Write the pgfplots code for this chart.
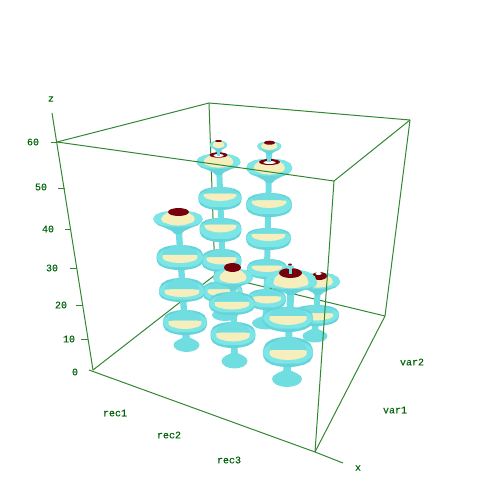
\documentclass[border=0pt]{standalone}
\usepackage{pgfplots}
\usepackage{pgfplotstable}
\usepackage{fontspec}
\setmainfont{Liberation Mono}[RawFeature={embolden=0.15}]
\pgfplotsset{compat=1.18}
\definecolor{cy}{RGB}{112,222,224}
\definecolor{cyl}{RGB}{124,230,230}
\definecolor{cyd}{RGB}{100,212,218}
\definecolor{cr}{RGB}{247,238,190}
\definecolor{rd}{RGB}{118,0,12}
\definecolor{fr}{RGB}{50,135,50}
\definecolor{tx}{RGB}{0,100,10}
\pgfplotstableread{
u v
-1 0
-0.98 -0.3
-0.88 -0.6
-0.66 -0.82
-0.38 -0.95
-0.14 -1
0.14 -1
0.38 -0.95
0.66 -0.82
0.88 -0.6
0.98 -0.3
1 0
0.98 0.3
0.88 0.62
0.66 0.84
0.38 0.96
0.14 1
-0.14 1
-0.38 0.96
-0.66 0.84
-0.88 0.62
-0.98 0.3
}\lensT
\pgfplotstableread{
u v
-1 0
-0.95 -0.2
-0.8 -0.42
-0.5 -0.6
-0.25 -0.8
-0.12 -1
0.12 -1
0.25 -0.8
0.5 -0.6
0.8 -0.42
0.95 -0.2
1 0
0.92 0.5
0.65 0.85
0.3 1
-0.3 1
-0.65 0.85
-0.92 0.5
}\cupT
\pgfplotstableread{
u v
-1 0
-0.92 0.35
-0.7 0.62
-0.4 0.75
0.4 0.75
0.7 0.62
0.92 0.35
1 0
0.92 -0.3
0.7 -0.6
0.4 -0.76
-0.4 -0.76
-0.7 -0.6
-0.92 -0.3
}\rimT
\pgfplotstableread{
u v
-1 0
-0.92 0.5
-0.65 0.85
-0.3 1
0.3 1
0.65 0.85
0.92 0.5
1 0
0.92 -0.25
0.65 -0.42
0.3 -0.5
-0.3 -0.5
-0.65 -0.42
-0.92 -0.25
}\cuprimT
\pgfplotstableread{
u v
-0.74 0.16
-0.5 0.2
-0.22 0.2
0.22 0.2
0.5 0.2
0.74 0.16
0.74 -0.12
0.62 -0.3
0.3 -0.46
0 -0.5
-0.3 -0.46
-0.62 -0.3
-0.74 -0.12
}\creamT
\pgfplotstableread{
u v
-0.76 0.18
-0.5 0.2
-0.22 0.2
0.22 0.2
0.5 0.2
0.76 0.18
0.7 0.5
0.45 0.8
0.14 1
-0.14 1
-0.45 0.8
-0.7 0.5
}\upT
\pgfplotstableread{
u v
-0.68 0
-0.62 0.4
-0.44 0.75
-0.26 0.95
0.26 0.95
0.44 0.75
0.62 0.4
0.68 0
0.62 -0.2
0.3 -0.38
0 -0.44
-0.3 -0.38
-0.62 -0.2
}\domeT
\pgfplotstableread{
u v
1 0
0.92 0.38
0.71 0.71
0.38 0.92
0 1
-0.38 0.92
-0.71 0.71
-0.92 0.38
-1 0
-0.92 -0.38
-0.71 -0.71
-0.38 -0.92
0 -1
0.38 -0.92
0.71 -0.71
0.92 -0.38
}\ellT
\pgfplotstableread{
u v
1 0
0.92 0.38
0.62 0.75
0.26 1.05
0.2 1.9
-0.2 1.9
-0.26 1.05
-0.62 0.75
-0.92 0.38
-1 0
-0.92 -0.38
-0.71 -0.71
-0.38 -0.92
0 -1
0.38 -0.92
0.71 -0.71
0.92 -0.38
}\footT
% shape: colour, table, cx, cy, half width, up, down
\newcommand{\shp}[7]{\addplot[fill=#1,draw=none,forget plot] table[x expr={#3+#5*\thisrow{u}},y expr={#4-\thisrow{v}*(\thisrow{v}>0?#6:#7)}]{#2};}
% lens: cx, cy, half width, up, down, upward shift of the band
\newcommand{\lensG}[6]{\shp{cyd}{\lensT}{#1}{#2}{#3}{#4}{#5}\shp{cyl}{\rimT}{#1}{#2}{#3}{#4}{#5}\shp{cr}{\creamT}{#1}{#2-#6}{#3}{#4-#6}{#5}\shp{cy}{\upT}{#1}{#2-#6}{#3}{#4-#6}{#5}}
\newcommand{\cupG}[5]{\shp{cyd}{\cupT}{#1}{#2}{#3}{#4}{#5}\shp{cyl}{\cuprimT}{#1}{#2}{#3}{#4}{#5}\shp{cr}{\domeT}{#1}{#2}{#3}{#4}{#5}}
\newcommand{\foot}[4]{\shp{cy}{\footT}{#1}{#2}{#3}{#4}{#4}}
\newcommand{\capR}[4]{\shp{rd}{\ellT}{#1}{#2}{#3}{#4}{#4}}
\newcommand{\ellp}[5]{\shp{#1}{\ellT}{#2}{#3}{#4}{#5}{#5}}
\newcommand{\stem}[5]{\addplot[fill=cy,draw=none,forget plot] coordinates {(#1-#5,#2) (#1+#5,#2) (#3+#5,#4) (#3-#5,#4)};}
\newcommand{\seg}[4]{\addplot[fr,line width=1pt,forget plot] coordinates {(#1,#2) (#3,#4)};}
\newcommand{\lab}[3]{\node[tx,font=\fontsize{10}{12}\selectfont] at (axis cs:#1,#2) {#3};}
\begin{document}
\begin{tikzpicture}
\useasboundingbox (0,0) rectangle (502pt,490pt);
\begin{axis}[at={(0,0)},anchor=south west,scale only axis,width=502pt,height=490pt,
  xmin=0,xmax=502,ymin=0,ymax=490,y dir=reverse,hide axis,clip=false]
% back frame
\seg{93}{370}{215}{275}
\seg{215}{275}{385}{316}
\seg{209}{103}{215}{275}
% column rec1 var2
\stem{218.5}{150}{224.5}{314}{3}
\foot{225}{315}{13}{6}
\lensG{222.5}{292}{20}{11}{11}{1}
\lensG{221.5}{261}{20}{12}{11}{2}
\lensG{220.5}{229}{21}{11}{13}{3}
\lensG{220}{198}{21.7}{11}{12}{3}
\cupG{218.5}{162}{22}{8}{13}
\capR{218.5}{155}{9}{2.7}
\ellp{white}{218.5}{155.5}{5}{1.5}
\stem{218.5}{150}{218.5}{156}{1.8}
\cupG{218.5}{145}{8.5}{4}{7}
\capR{218.5}{141}{3.5}{1}
% column rec2 var2
\stem{269.3}{150}{266}{322}{3}
\foot{266}{323}{14}{6.5}
\lensG{267}{299}{19}{10}{11}{1}
\lensG{267}{269}{20}{10}{10}{2}
\lensG{268.5}{238}{22.5}{10}{12}{3}
\lensG{269}{205}{23}{12}{12}{3}
\cupG{269.3}{168}{23}{9}{15}
\capR{269.5}{162}{10.5}{3}
\ellp{white}{269.5}{162.5}{6}{1.5}
\stem{269.3}{152}{269.3}{162}{2}
\cupG{269.3}{146}{12}{4}{9}
\capR{269.5}{142.7}{5.5}{2}
% column rec3 var2
\stem{318}{285}{315}{335}{3}
\foot{315}{336}{12.5}{6.5}
\lensG{316}{315}{23}{10}{11}{0}
\cupG{318}{282}{22}{9}{13}
\capR{319.5}{276}{7.5}{4}
\ellp{white}{318.5}{273.5}{3}{1.5}
% column rec1 var1
\stem{178.5}{225}{186}{344}{3.2}
\foot{186.5}{345}{13}{7}
\lensG{185}{323}{22}{13}{12}{0}
\lensG{182}{292}{23}{14}{10}{0}
\lensG{180}{258}{23.5}{13}{12}{1}
\cupG{178}{219}{24.7}{8}{15}
\capR{178.5}{212}{10.5}{4}
% column rec2 var1
\stem{233}{285}{234.5}{360}{3.2}
\foot{234.5}{361}{13}{7.5}
\lensG{233}{335}{22.5}{13}{13}{0}
\lensG{232}{304}{23}{12}{11}{0}
\cupG{233}{278}{20}{9}{12}
\capR{232.5}{267.5}{8.5}{4.5}
% column rec3 var1
\stem{291}{285}{287}{378}{3.5}
\foot{287}{379}{15}{8}
\lensG{288}{353}{25}{16}{14}{0}
\lensG{288}{318}{25}{11}{14}{0}
\cupG{291}{283}{26}{13}{12}
\capR{290.5}{273}{11.5}{5}
\stem{290}{266}{290}{274}{1.5}
\ellp{cyl}{290}{267}{4}{2}
\capR{290}{264.5}{1.8}{1}
% front frame
\seg{52}{113}{93}{370}
\seg{57}{142}{209}{103}
\seg{209}{103}{410}{120}
\seg{57}{142}{334}{181}
\seg{334}{181}{410}{120}
\seg{334}{181}{315}{452}
\seg{410}{120}{385}{316}
\seg{89}{370}{315}{452}
\seg{315}{452}{343}{463}
\seg{315}{452}{385}{316}
% z ticks
\seg{51}{142}{57}{142}
\seg{58}{188}{65}{188}
\seg{65}{229}{71}{229}
\seg{70}{268}{77}{268}
\seg{76}{305}{83}{305}
\seg{81}{339}{88}{339}
\lab{51}{99}{z}
\lab{33}{142}{60}
\lab{41}{187}{50}
\lab{48}{229}{40}
\lab{52}{268}{30}
\lab{61}{305}{20}
\lab{69}{339}{10}
\lab{75}{372}{0}
\lab{115}{413}{rec1}
\lab{169}{435}{rec2}
\lab{229}{460}{rec3}
\lab{395}{410}{var1}
\lab{412}{362}{var2}
\lab{358}{468}{x}
\end{axis}
\end{tikzpicture}
\end{document}
